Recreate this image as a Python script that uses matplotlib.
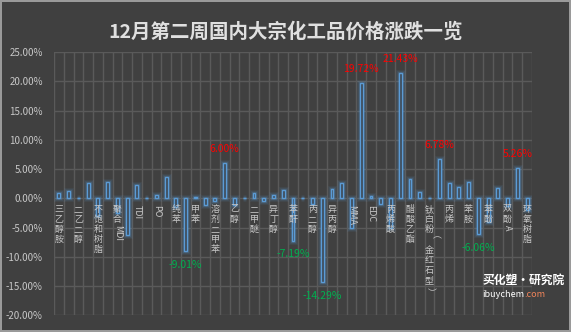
import matplotlib
matplotlib.use("Agg")
import matplotlib.pyplot as plt

plt.rcParams['font.family'] = ['Noto Sans CJK SC', 'DejaVu Sans']

TITLE = "12月第二周国内大宗化工品价格涨跌一览"

# 只在偶数位置显示的品种名称（Excel 自动隔一个显示）
shown_names = ["三乙醇胺", "二乙二醇", "不饱和树脂", "聚合MDI", "TDI", "PO", "纯苯",
               "甲苯", "溶剂二甲苯", "乙醇", "二甲醚", "异丁醇", "苯酐", "丙二醇",
               "异丙醇", "MMA", "EDC", "丙烯酸", "醋酸乙酯", "钛白粉（金红石型）",
               "丙烯", "苯胺", "苯酚", "双酚A", "环氧树脂"]

# 周涨跌幅 %
changes = [0.9, 1.3, 0.0, 2.6, -3.0, 2.76, -2.5, -6.2, 2.3, 0.0,
           0.6, 3.6, -1.5, -9.01, 0.3, -1.1, -0.5, 6.00, -1.1, 0.0,
           0.9, -0.5, 0.6, 1.45, -7.19, 0.0, -0.9, -14.29, 1.6, 2.6,
           -5.0, 19.72, 0.5, -0.9, -5.0, 21.43, 3.28, 1.06, 0.0, 6.78,
           2.6, 2.0, 2.76, -6.06, -4.0, 1.85, -1.3, 5.26, -2.0]

# 标注数值的品种序号
labelled = [13, 17, 24, 27, 31, 35, 39, 43, 47]

BG = '#404040'
BAR = '#5b9bd5'
GRID = '#5a5a5a'
TXT = '#c8c8c8'


def stacked_label(ax, x, text, fs=6.5):
    # 竖排：汉字直立，字母/括号旋转90度
    segs = []
    for ch in text:
        if '\u4e00' <= ch <= '\u9fff':
            segs.append(('cjk', ch))
        elif segs and segs[-1][0] == 'lat':
            segs[-1] = ('lat', segs[-1][1] + ch)
        else:
            segs.append(('lat', ch))
    off = -4.5
    for kind, s in segs:
        if kind == 'cjk':
            ax.annotate(s, (x, 0), xytext=(0, off), textcoords='offset points',
                        ha='center', va='top', fontsize=fs, color=TXT)
            off -= fs * 1.12
        else:
            ax.annotate(s, (x, 0), xytext=(0, off), textcoords='offset points',
                        ha='center', va='top', fontsize=fs, color=TXT, rotation=-90)
            w = sum(fs * 1.0 if ord(c) > 0xff else fs * 0.62 for c in s)
            off -= w + 1.5


fig = plt.figure(figsize=(5.71, 3.32), dpi=100)
fig.patch.set_facecolor(BG)
fig.patch.set_edgecolor('#9a9a9a')
fig.patch.set_linewidth(1.5)
ax = fig.add_axes([0.0946, 0.0497, 0.837, 0.7933])
ax.set_facecolor(BG)

n = len(changes)
xs = list(range(n))

# 发光效果
for lw, a in [(5, 0.08), (3.5, 0.12), (2.2, 0.2)]:
    ax.bar(xs, changes, width=0.3, facecolor='none', edgecolor=BAR, linewidth=lw, alpha=a, zorder=2)
ax.bar(xs, changes, width=0.3, facecolor='#3d4650', edgecolor=BAR, linewidth=1.0, zorder=3)

ax.set_xlim(-0.5, n - 0.5)
ax.set_ylim(-20, 25)
ax.set_yticks(range(-20, 26, 5))
ax.set_yticklabels([f"{v:.2f}%" for v in range(-20, 26, 5)], fontsize=7, color=TXT)
ax.set_xticks([i + 0.5 for i in range(-1, n)], minor=True)
ax.set_xticks([])
ax.grid(True, which='minor', axis='x', color=GRID, lw=1)
ax.grid(True, which='major', axis='y', color=GRID, lw=1)
ax.set_axisbelow(True)
ax.tick_params(length=0, which='both', pad=8)
for s in ax.spines.values():
    s.set_visible(False)

for k, name in enumerate(shown_names):
    stacked_label(ax, 2 * k, name)

for i in labelled:
    v = changes[i]
    col = '#ff0000' if v > 0 else '#00b050'
    ax.annotate(f"{v:.2f}%", (i, v), xytext=(0, 10 if v > 0 else -10),
                textcoords='offset points', ha='center', va='center',
                fontsize=7.5, color=col, zorder=5)

fig.text(0.5, 0.905, TITLE, ha='center', va='center', fontsize=14,
         fontweight='bold', color='#e0e0e0')

# 水印
fig.text(0.845, 0.157, "买化塑·研究院", fontsize=8.5, fontweight='bold',
         style='italic', color='white', ha='left', va='center')
t = fig.text(0.845, 0.113, "ibuychem", fontsize=6.5, color='white', ha='left', va='center')
fig.canvas.draw()
bb = t.get_window_extent()
fig.text(bb.x1 / fig.bbox.width, 0.113, ".com", fontsize=6.5, color='#f0845a',
         ha='left', va='center')

fig.savefig("out.png", dpi=100, facecolor=fig.get_facecolor(), edgecolor=fig.get_edgecolor())
